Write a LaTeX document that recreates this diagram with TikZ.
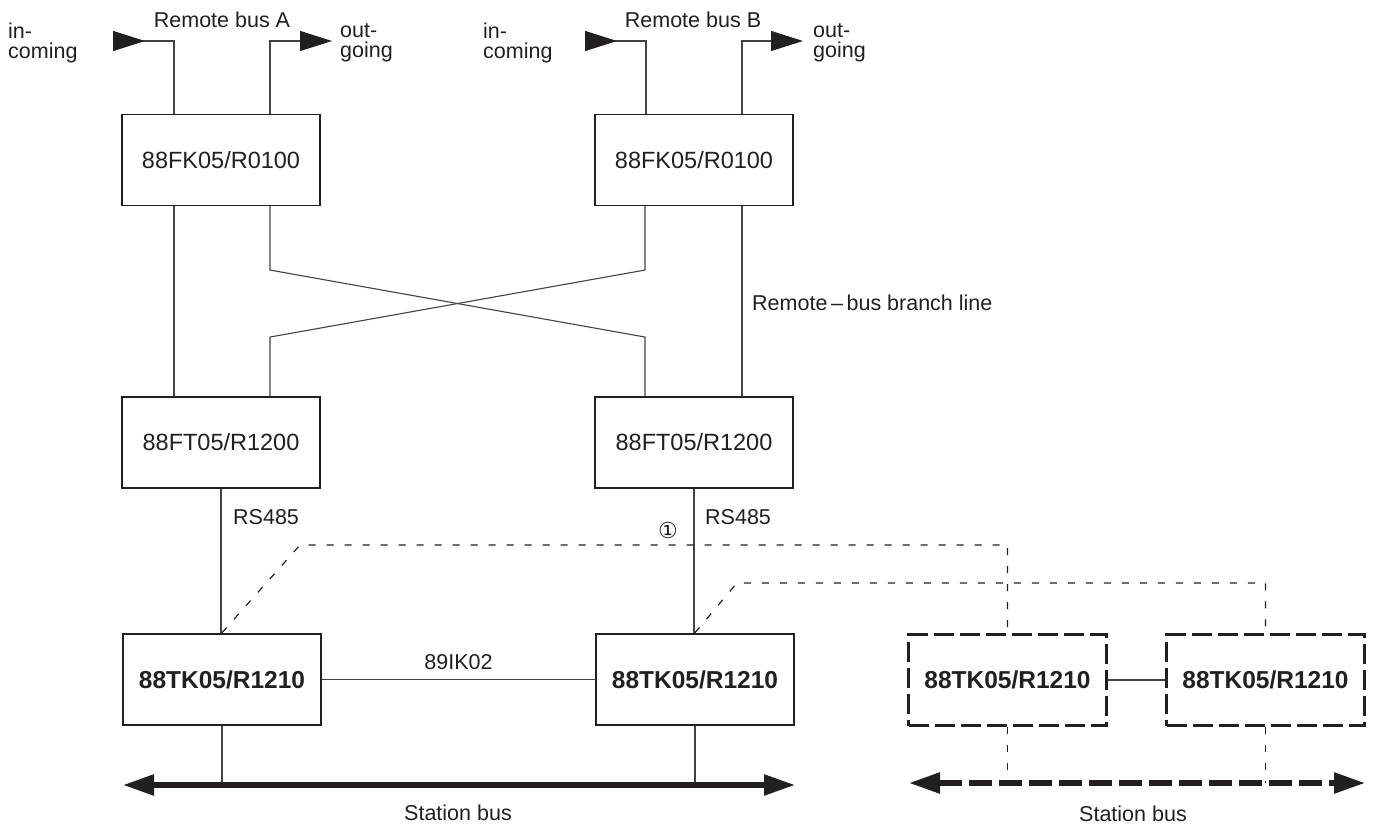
\documentclass[tikz,border=0pt]{standalone}
\usepackage{fontspec}
\setmainfont{Liberation Sans}
\newfontfamily\symfont{DejaVu Sans}
\usetikzlibrary{arrows.meta,calc}
\definecolor{ink}{HTML}{231F20}
\tikzset{
  thinline/.style={draw=ink!85, line width=1.1pt},
  unitbox/.style={draw=ink, line width=1.1pt, minimum width=198pt, minimum height=91pt, inner sep=0pt,
     font=\fontsize{23.5}{26}\selectfont, text=ink},
  tkbox/.style={draw=ink, line width=2.6pt, minimum width=198pt, minimum height=91pt, inner sep=0pt,
     font=\bfseries\fontsize{24.5}{27}\selectfont, text=ink},
  tkdash/.style={tkbox, dash pattern=on 20pt off 6pt},
  lbl/.style={font=\fontsize{21.5}{24}\selectfont, text=ink, inner sep=0pt},
  twoline/.style={lbl, align=left, font=\fontsize{21.5}{20}\selectfont},
  fine/.style={draw=ink, line width=1.2pt, dash pattern=on 7pt off 11pt},
  busline/.style={draw=ink, line width=5.5pt, {Triangle[length=31pt,width=20pt]}-{Triangle[length=31pt,width=20pt]}},
  busdash/.style={busline, dash pattern=on 23pt off 7pt},
  intip/.style={{Triangle[reversed,length=32pt,width=20pt,fill=ink,color=ink]}-},
  outtip/.style={-{Triangle[length=32pt,width=20pt,fill=ink,color=ink]}}
}
\begin{document}
\begin{tikzpicture}[x=1pt,y=-1pt]
\useasboundingbox (0,0) rectangle (1374,826);
\fill[white] (0,0) rectangle (1374,826);

% boxes
\node[unitbox] (fkA) at (221,160) {88FK05/R0100};
\node[unitbox] (fkB) at (694,160) {88FK05/R0100};
\node[unitbox] (ftA) at (221,442.5) {88FT05/R1200};
\node[unitbox] (ftB) at (694,442.5) {88FT05/R1200};
\node[tkbox] (tkA) at (222,679.5) {88TK05/R1210};
\node[tkbox] (tkB) at (695,679.5) {88TK05/R1210};
\node[tkdash] (tkC) at (1007.5,680) {88TK05/R1210};
\node[tkdash] (tkD) at (1265.5,680) {88TK05/R1210};

% remote bus terminals
\coordinate (inA) at (113,41);
\coordinate (outA) at (332,41);
\coordinate (inB) at (585,41);
\coordinate (outB) at (803,41);

\draw[thinline, intip] (inA) -| ([xshift=-47pt]fkA.north);
\draw[thinline, outtip] ([xshift=49pt]fkA.north) |- (outA);
\draw[thinline, intip] (inB) -| ([xshift=-48pt]fkB.north);
\draw[thinline, outtip] ([xshift=48pt]fkB.north) |- (outB);

\node[lbl] (rbA) at (222,20) {Remote bus A};
\node[lbl] (rbB) at (693,20) {Remote bus B};
\node[twoline, anchor=west] (inAl) at (8,43) {in-\\coming};
\node[twoline, anchor=west] (outAl) at (340,43) {out-\\going};
\node[twoline, anchor=west] (inBl) at (483,43) {in-\\coming};
\node[twoline, anchor=west] (outBl) at (813,43) {out-\\going};

% FK to FT connections
\draw[thinline] ([xshift=-47pt]fkA.south) -- ([xshift=-47pt]ftA.north);
\draw[thinline] ([xshift=48pt]fkB.south) -- ([xshift=48pt]ftB.north);
\draw[thinline] ([xshift=49pt]fkA.south) -- ++(0,64) -- ++(375,67) -- ([xshift=-49pt]ftB.north);
\draw[thinline] ([xshift=-49pt]fkB.south) -- ++(0,64) -- ++(-375,67) -- ([xshift=49pt]ftA.north);
\node[lbl, anchor=west] (rbl) at (752,303) {Remote\,–\,bus branch line};

% FT to TK
\draw[thinline] (ftA.south) -- (ftA.south |- tkA.north);
\draw[thinline] (ftB.south) -- (ftB.south |- tkB.north);
\node[lbl, anchor=west] (rsA) at (233,517) {RS485};
\node[lbl, anchor=west] (rsB) at (705,517) {RS485};

% TK interlinks
\draw[thinline] (tkA) -- (tkB) node[lbl, midway, above=9pt] (ik) {89IK02};
\draw[thinline] (tkC) -- (tkD);

% dotted redundancy lines
\coordinate (k1) at (300,545);
\coordinate (k2) at (737,583);
\draw[fine] ([xshift=1pt]tkA.north west -| ftA.south) -- (k1) -- (k1 -| tkC.north) -- (tkC.north);
\draw[fine] ([xshift=1pt]tkB.north west -| ftB.south) -- (k2) -- (k2 -| tkD.north) -- (tkD.north);
\node[font=\symfont\fontsize{22}{24}\selectfont, text=ink] (n1) at (668,530) {①};

% station buses
\coordinate (sbL) at (123,785);
\coordinate (sbR) at (795,785);
\coordinate (dbL) at (909,783);
\coordinate (dbR) at (1365,783);
\draw[thinline] (tkA.south) -- (tkA.south |- sbL);
\draw[thinline] (tkB.south) -- (tkB.south |- sbL);
\draw[busline] (sbL) -- (sbR);
\draw[fine] (tkC.south) -- (tkC.south |- dbL);
\draw[fine] (tkD.south) -- (tkD.south |- dbL);
\draw[busdash] (dbL) -- (dbR);
\node[lbl] (sb1) at (458,813) {Station bus};
\node[lbl] (sb2) at (1133,814) {Station bus};
\end{tikzpicture}
\end{document}
